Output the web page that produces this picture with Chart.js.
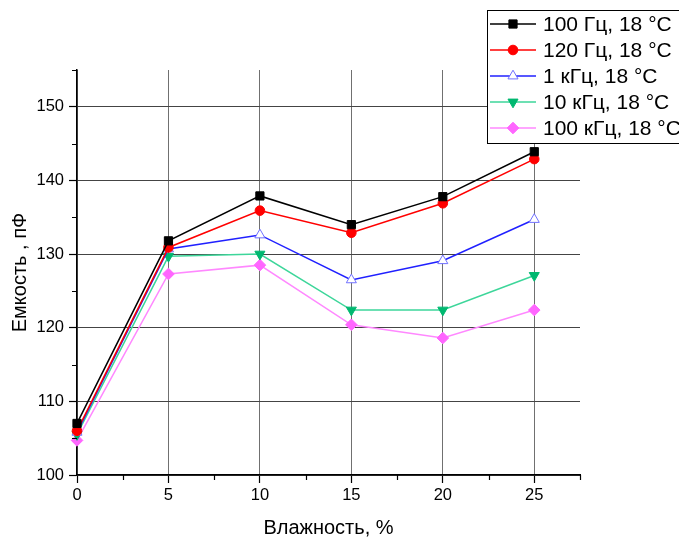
<!DOCTYPE html>
<html>
<head>
<meta charset="utf-8">
<script src="https://cdn.jsdelivr.net/npm/chart.js@4/dist/chart.umd.min.js"></script>
<style>
  html, body { margin: 0; padding: 0; background: #fff; }
  #wrap { width: 679px; height: 538px; }
</style>
</head>
<body>
<div id="wrap"><canvas id="myChart" width="679" height="538"></canvas></div>
<script>
// humidity, %  -> capacitance, pF
const humidity = [0, 5, 10, 15, 20, 25];
const cap100Hz = [107, 131.8, 137.9, 134, 137.8, 143.9];
const cap120Hz = [106, 130.9, 135.9, 132.9, 136.9, 142.9];
const cap1kHz = [105.8, 130.7, 132.6, 126.5, 129.1, 134.7];
const cap10kHz = [105.5, 129.7, 130, 122.4, 122.4, 127.1];
const cap100kHz = [104.7, 127.3, 128.5, 120.4, 118.6, 122.4];
const seriesLabels = ['100 Гц, 18 °C', '120 Гц, 18 °C', '1 кГц, 18 °C', '10 кГц, 18 °C', '100 кГц, 18 °C'];
const xTitle = 'Влажность, %';
const yTitle = 'Емкость , пФ';

const FONT = "'Liberation Sans', Arial, sans-serif";

function puntos(values){
  return humidity.map((h, i) => ({ x: h, y: values[i] }));
}

function serie(label, values, line, fill, stroke, style, rot){
  return {
    label: label,
    data: puntos(values),
    borderColor: line,
    borderWidth: 1.5,
    pointStyle: style,
    pointRotation: rot || 0,
    pointRadius: style === 'circle' ? 4.8 : 5.8,
    pointBackgroundColor: fill,
    pointBorderColor: stroke,
    pointBorderWidth: 1,
    lineTension: 0,
    clip: false
  };
}

var datasets = [
  serie(seriesLabels[0], cap100Hz, '#000000', '#000000', '#000000', 'rect'),
  serie(seriesLabels[1], cap120Hz, '#ff0000', '#ff0000', '#ff0000', 'circle'),
  serie(seriesLabels[2], cap1kHz, '#2020ff', '#ffffff', '#7070ff', 'triangle'),
  serie(seriesLabels[3], cap10kHz, '#3dd69a', '#00b870', '#00b870', 'triangle', 180),
  serie(seriesLabels[4], cap100kHz, '#ff88ff', '#ff66ff', '#ff66ff', 'rectRot')
];

// short ticks between the labelled ones
const minorTicks = {
  id: 'minorTicks',
  afterDraw(chart){
    const ctx = chart.ctx;
    const xs = chart.scales.x, ys = chart.scales.y;
    ctx.save();
    ctx.strokeStyle = '#000';
    ctx.lineWidth = 1.2;
    ctx.beginPath();
    for (let v = 105; v <= 155; v += 10) {
      const py = Math.round(ys.getPixelForValue(v)) + 0.5;
      ctx.moveTo(xs.left - 5, py);
      ctx.lineTo(xs.left, py);
    }
    for (let v = 2.5; v <= 27.5; v += 5) {
      const px = Math.round(xs.getPixelForValue(v)) + 0.5;
      ctx.moveTo(px, ys.bottom);
      ctx.lineTo(px, ys.bottom + 5);
    }
    ctx.stroke();
    ctx.restore();
  }
};

// framed legend in the upper right corner
const boxLegend = {
  id: 'boxLegend',
  afterDraw(chart){
    const ctx = chart.ctx;
    const x0 = 487, y0 = 10, rowH = 26;
    ctx.save();
    ctx.fillStyle = '#fff';
    ctx.fillRect(x0, y0, 250, 133);
    ctx.strokeStyle = '#000';
    ctx.lineWidth = 1;
    ctx.strokeRect(x0 + 0.5, y0 + 0.5, 250, 133);
    chart.data.datasets.forEach((ds, i) => {
      const y = y0 + 14 + i * rowH;
      ctx.strokeStyle = ds.borderColor;
      ctx.lineWidth = 1.5;
      ctx.beginPath();
      ctx.moveTo(490, y);
      ctx.lineTo(536, y);
      ctx.stroke();
      ctx.fillStyle = ds.pointBackgroundColor;
      ctx.strokeStyle = ds.pointBorderColor;
      ctx.lineWidth = 1;
      Chart.helpers.drawPoint(ctx, {
        pointStyle: ds.pointStyle,
        radius: ds.pointRadius,
        rotation: ds.pointRotation,
        borderWidth: 1
      }, 513, y);
      ctx.fillStyle = '#000';
      ctx.font = '21px ' + FONT;
      ctx.textBaseline = 'middle';
      ctx.textAlign = 'left';
      ctx.fillText(ds.label, 543, y + 1);
    });
    ctx.restore();
  }
};

config = {
  type: 'line',
  data: { datasets: datasets },
  options: {
    responsive: false,
    animation: false,
    layout: { padding: { top: 70, right: 99, left: 0, bottom: 0 } },
    plugins: {
      legend: { display: false },
      tooltip: { enabled: false }
    },
    scales: {
      x: {
        type: 'linear',
        min: 0,
        max: 27.5,
        afterFit: (s) => { s.height = 63; },
        ticks: { stepSize: 5, includeBounds: false, color: '#000', padding: 3, font: { family: FONT, size: 16.5 } },
        grid: { color: '#707070', lineWidth: 1, tickLength: 8, tickColor: '#000', tickWidth: 1.2 },
        border: { color: '#000', width: 1.5 },
        title: { display: true, text: xTitle, color: '#000', padding: { top: 0, bottom: 0 }, font: { family: FONT, size: 20, lineHeight: 0.95 } }
      },
      y: {
        min: 100,
        max: 155,
        afterFit: (s) => { s.width = 77; },
        ticks: { stepSize: 10, includeBounds: false, color: '#000', padding: 5, font: { family: FONT, size: 16.5 } },
        grid: { color: '#444', lineWidth: 1, tickLength: 8, tickColor: '#000', tickWidth: 1.2 },
        border: { color: '#000', width: 1.5 },
        title: { display: true, text: yTitle, color: '#000', padding: { top: 10, bottom: 0 }, font: { family: FONT, size: 20, lineHeight: 1 } }
      }
    }
  },
  plugins: [minorTicks, boxLegend]
};

myChart = new Chart(document.getElementById('myChart'), config);
</script>
</body>
</html>
